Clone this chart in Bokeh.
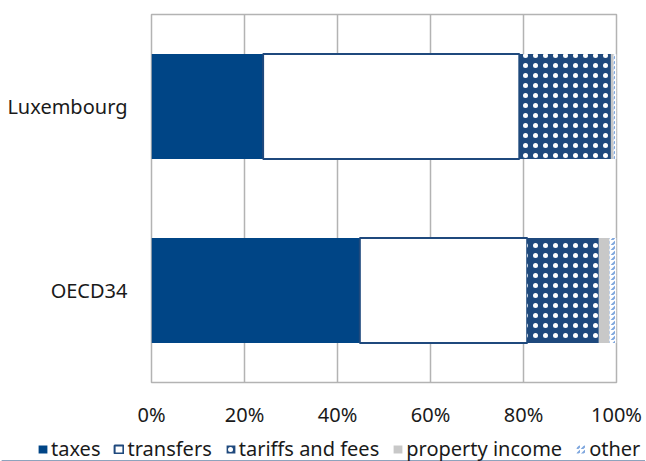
import numpy as np
from bokeh.plotting import figure
from bokeh.layouts import column, row
from bokeh.models import FactorRange, Range1d, FixedTicker, Legend, LegendItem, Spacer
from bokeh.embed import file_html
from bokeh.resources import INLINE

# Composition of revenue, share of total (%)
countries = ["OECD34", "Luxembourg"]
series_names = ["taxes", "transfers", "tariffs and fees", "property income", "other"]
taxes = [44.8, 24.0]
transfers = [36.0, 55.1]
tariffs_and_fees = [15.4, 19.7]
property_income = [2.3, 0.6]
other = [1.5, 0.6]
x_ticks = [0, 20, 40, 60, 80, 100]
x_tick_labels = ["0%", "20%", "40%", "60%", "80%", "100%"]

FONT = "Noto Sans"
TEXT = "#1a1a1a"
GRID = "#B3B3B3"

shares = np.array([taxes, transfers, tariffs_and_fees, property_income, other])
ends = np.cumsum(shares, axis=0)
starts = ends - shares

styles = [
    dict(fill_color="#004586", line_color=None),
    dict(fill_color="white", line_color="#1F497D", line_width=2),
    dict(fill_color="#1F497D", line_color=None, hatch_pattern="dot",
         hatch_color="white", hatch_scale=10, hatch_weight=0.3),
    dict(fill_color="#C8C8C8", line_color=None),
    dict(fill_color="white", line_color=None, hatch_pattern="right_diagonal_dash",
         hatch_color="#7FA7DE", hatch_scale=5, hatch_weight=2),
]

p = figure(
    y_range=FactorRange(*countries, range_padding=0),
    x_range=Range1d(0, 100),
    width=646, height=430,
    min_border_left=151, min_border_right=30, min_border_top=14, min_border_bottom=48,
    output_backend="svg", toolbar_location=None,
)
p.background_fill_color = "white"
p.border_fill_color = "white"
p.outline_line_color = GRID
p.outline_line_width = 1.5

for i, name in enumerate(series_names):
    p.hbar(y=countries, left=starts[i], right=ends[i], height=0.57, **styles[i])

p.xgrid.ticker = FixedTicker(ticks=x_ticks)
p.xgrid.grid_line_color = GRID
p.xgrid.grid_line_width = 1.5
p.ygrid.grid_line_color = None

p.xaxis.ticker = FixedTicker(ticks=x_ticks)
p.xaxis.major_label_overrides = dict(zip(x_ticks, x_tick_labels))
for ax in (p.xaxis, p.yaxis):
    ax.axis_line_color = None
    ax.major_tick_line_color = None
    ax.minor_tick_line_color = None
    ax.major_label_text_font = FONT
    ax.major_label_text_font_size = "20px"
    ax.major_label_text_color = TEXT
p.xaxis.major_label_standoff = 12
p.yaxis.major_label_standoff = 18

# Legend strip below the chart; the swatch renderers sit outside its visible range.
# A 1px spacer keeps this strip's frame independent of the chart's frame.
key = figure(
    width=644, height=31,
    x_range=Range1d(0, 1), y_range=Range1d(0, 1),
    min_border=0, x_axis_location=None, y_axis_location=None,
    output_backend="svg", toolbar_location=None,
)
key.outline_line_color = None
key.xgrid.grid_line_color = None
key.ygrid.grid_line_color = None
key_renderers = [key.hbar(y=[-50], left=[0], right=[1], height=0.5, **s) for s in styles]

legend = Legend(
    items=[LegendItem(label=n, renderers=[r]) for n, r in zip(series_names, key_renderers)],
    orientation="horizontal",
    location=(36, -1),
    label_text_font=FONT,
    label_text_font_size="20px",
    label_text_color=TEXT,
    glyph_width=11, glyph_height=10,
    label_standoff=3, spacing=13,
    padding=0, margin=0,
    border_line_color=None,
    background_fill_alpha=0,
)
key.add_layout(legend, "center")

layout = column(p, row(Spacer(width=1, height=31), key, spacing=0), spacing=0)
open("out.html", "w").write(file_html(layout, INLINE))
